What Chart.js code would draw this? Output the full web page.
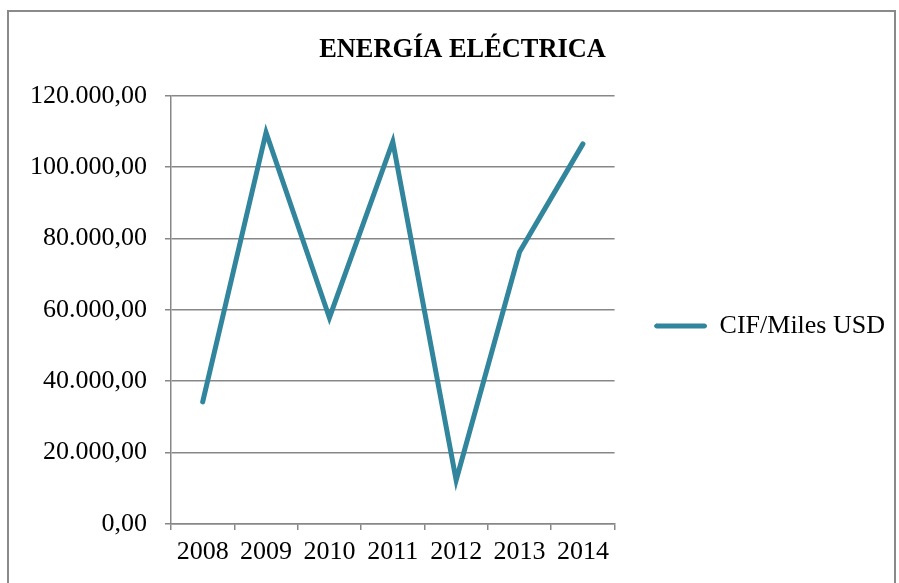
<!DOCTYPE html>
<html>
<head>
<meta charset="utf-8">
<script src="https://cdn.jsdelivr.net/npm/chart.js@4/dist/chart.umd.min.js"></script>
<style>
  html, body { margin: 0; padding: 0; background: #fff; }
  #caja { position: relative; width: 899px; height: 583px; overflow: hidden; }
  #marco { position: absolute; left: 7px; top: 10px; width: 885px; height: 600px; border: 2px solid #8a8a8a; }
  #grafico { position: absolute; left: 0; top: 0; }
</style>
</head>
<body>
<div id="caja">
  <div id="marco"></div>
  <canvas id="grafico" width="899" height="583"></canvas>
</div>
<script>
// datos del grafico
const anios = ['2008', '2009', '2010', '2011', '2012', '2013', '2014'];
const cifMilesUsd = [34200, 109700, 57800, 107100, 12300, 76200, 106500];
const ticksY = [0, 20000, 40000, 60000, 80000, 100000, 120000];

// formato 120.000,00
function formatoNumero(v) {
  const entero = Math.round(v).toString().replace(/\B(?=(\d{3})+(?!\d))/g, '.');
  return entero + ',00';
}

const colorLinea = '#31859c';
const colorGris = '#878787';
const fuente = 'Liberation Serif';

const ctx = document.getElementById('grafico').getContext('2d');
new Chart(ctx, {
  type: 'line',
  data: {
    labels: anios,
    datasets: [{
      label: 'CIF/Miles USD',
      data: cifMilesUsd,
      borderColor: colorLinea,
      backgroundColor: colorLinea,
      borderWidth: 5,
      pointRadius: 0,
      tension: 0,
      borderCapStyle: 'round',
      fill: false
    }]
  },
  options: {
    responsive: false,
    animation: false,
    layout: { padding: { left: 30, right: 4, top: 34, bottom: 0 } },
    plugins: {
      title: {
        display: true,
        text: 'ENERGÍA ELÉCTRICA',
        color: '#000',
        font: { family: fuente, size: 26.4, weight: 'bold', lineHeight: 1.2 },
        padding: { top: 0, bottom: 30 }
      },
      legend: {
        display: true,
        position: 'right',
        maxWidth: 400,
        title: { display: true, text: '', font: { size: 1, lineHeight: 1 }, padding: { top: 34, bottom: 0 } },
        labels: {
          color: '#000',
          font: { family: fuente, size: 26 },
          boxWidth: 52,
          boxHeight: 4,
          useBorderRadius: true,
          borderRadius: 2,
          padding: 40,
          generateLabels: chart => {
            const items = Chart.defaults.plugins.legend.labels.generateLabels(chart);
            items.forEach(it => { it.lineWidth = 1; });
            return items;
          }
        }
      },
      tooltip: { enabled: false }
    },
    scales: {
      x: {
        offset: true,
        afterFit: axis => { axis.height = 59; },
        grid: { display: true, offset: true, drawOnChartArea: false, drawTicks: true, tickLength: 6, color: colorGris, lineWidth: 1.5 },
        border: { color: colorGris, width: 1.5 },
        ticks: { color: '#000', font: { family: fuente, size: 26 }, padding: 7, maxRotation: 0 }
      },
      y: {
        min: 0,
        max: 120000,
        afterBuildTicks: axis => { axis.ticks = ticksY.map(v => ({ value: v })); },
        afterFit: axis => { axis.width = 141; },
        grid: { color: colorGris, lineWidth: 1.5, tickLength: 6 },
        border: { color: colorGris, width: 1.5 },
        ticks: { color: '#000', font: { family: fuente, size: 26 }, padding: 18, callback: v => formatoNumero(v) }
      }
    }
  }
});
</script>
</body>
</html>
